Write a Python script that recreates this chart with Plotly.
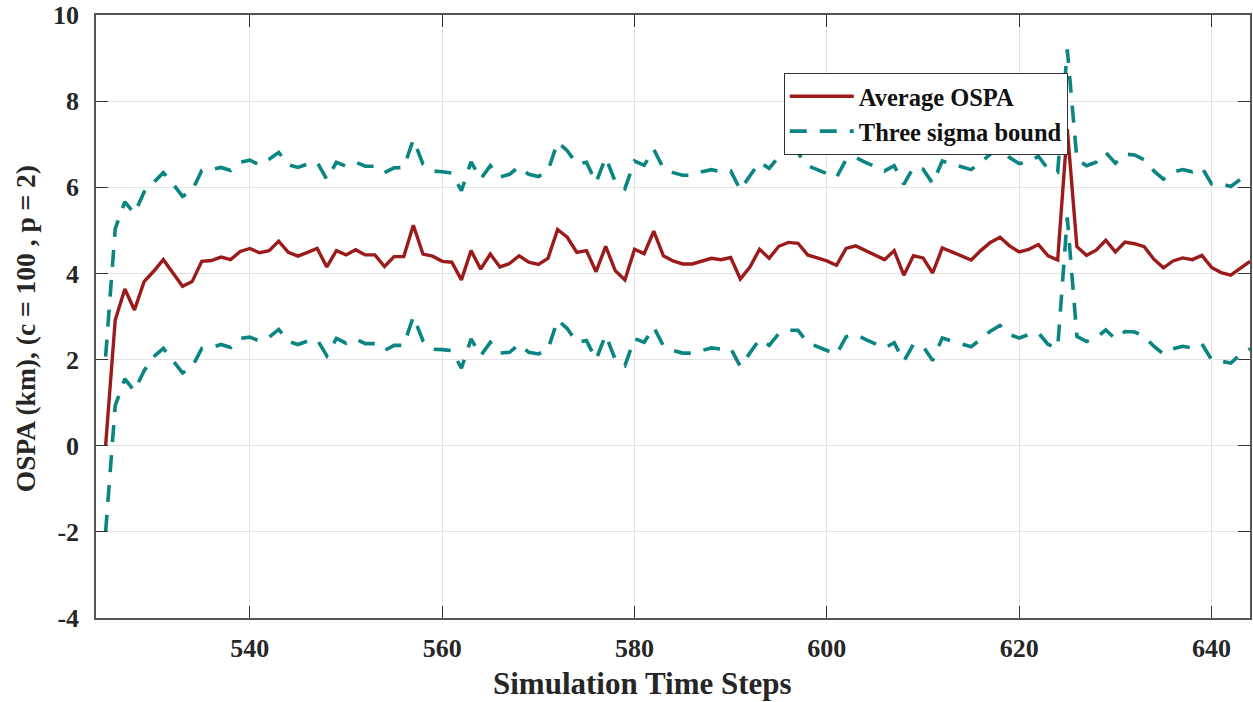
import plotly.graph_objects as go

steps = list(range(525, 645))

avg_ospa = [
    0.00, 2.92, 3.64, 3.15, 3.81, 4.05, 4.32, 4.01, 3.70, 3.81,
    4.28, 4.30, 4.38, 4.32, 4.51, 4.58, 4.48, 4.53, 4.75, 4.49,
    4.40, 4.49, 4.58, 4.15, 4.53, 4.43, 4.55, 4.43, 4.43, 4.16,
    4.39, 4.39, 5.12, 4.45, 4.40, 4.28, 4.26, 3.85, 4.53, 4.10,
    4.45, 4.15, 4.23, 4.41, 4.26, 4.21, 4.35, 5.02, 4.84, 4.49,
    4.53, 4.04, 4.63, 4.06, 3.85, 4.56, 4.46, 4.98, 4.41, 4.29,
    4.22, 4.22, 4.28, 4.35, 4.32, 4.37, 3.87, 4.15, 4.56, 4.35,
    4.63, 4.72, 4.70, 4.43, 4.36, 4.29, 4.19, 4.58, 4.64, 4.53,
    4.43, 4.32, 4.53, 3.96, 4.41, 4.36, 4.01, 4.59, 4.50, 4.41,
    4.31, 4.53, 4.72, 4.84, 4.64, 4.50, 4.56, 4.67, 4.41, 4.31,
    7.35, 4.62, 4.42, 4.54, 4.77, 4.50, 4.73, 4.69, 4.62, 4.33,
    4.13, 4.29, 4.36, 4.32, 4.42, 4.14, 4.02, 3.96, 4.12, 4.28,
]

upper_bound = [
    2.07, 5.04, 5.66, 5.39, 5.89, 6.13, 6.34, 6.08, 5.79, 5.92,
    6.39, 6.41, 6.46, 6.39, 6.58, 6.63, 6.52, 6.65, 6.81, 6.52,
    6.46, 6.54, 6.58, 6.18, 6.58, 6.49, 6.58, 6.49, 6.49, 6.34,
    6.45, 6.46, 7.11, 6.54, 6.38, 6.36, 6.33, 5.92, 6.59, 6.19,
    6.50, 6.24, 6.30, 6.48, 6.30, 6.25, 6.38, 7.05, 6.85, 6.54,
    6.58, 6.11, 6.69, 6.13, 5.97, 6.61, 6.51, 6.88, 6.44, 6.34,
    6.28, 6.28, 6.36, 6.41, 6.36, 6.38, 5.94, 6.27, 6.58, 6.44,
    6.71, 6.80, 6.79, 6.50, 6.41, 6.30, 6.23, 6.64, 6.69, 6.58,
    6.48, 6.38, 6.50, 6.07, 6.46, 6.42, 6.09, 6.61, 6.54, 6.48,
    6.41, 6.58, 6.77, 6.90, 6.69, 6.55, 6.59, 6.72, 6.42, 6.35,
    9.20, 6.65, 6.50, 6.58, 6.81, 6.56, 6.77, 6.75, 6.64, 6.38,
    6.19, 6.35, 6.41, 6.36, 6.46, 6.08, 6.08, 6.02, 6.18, 6.35,
]

lower_bound = [
    -2.00, 0.93, 1.55, 1.27, 1.74, 2.07, 2.26, 1.97, 1.69, 1.83,
    2.26, 2.28, 2.35, 2.28, 2.49, 2.52, 2.43, 2.52, 2.70, 2.42,
    2.35, 2.43, 2.46, 2.09, 2.49, 2.38, 2.48, 2.37, 2.37, 2.21,
    2.33, 2.33, 3.00, 2.44, 2.24, 2.23, 2.21, 1.80, 2.48, 2.09,
    2.40, 2.15, 2.17, 2.36, 2.17, 2.13, 2.24, 2.92, 2.72, 2.40,
    2.44, 2.00, 2.57, 2.00, 1.86, 2.49, 2.40, 2.75, 2.32, 2.21,
    2.15, 2.15, 2.21, 2.27, 2.24, 2.26, 1.84, 2.16, 2.47, 2.33,
    2.60, 2.68, 2.68, 2.39, 2.30, 2.19, 2.12, 2.53, 2.58, 2.47,
    2.37, 2.27, 2.39, 1.96, 2.35, 2.31, 1.98, 2.50, 2.43, 2.37,
    2.30, 2.47, 2.66, 2.79, 2.58, 2.50, 2.58, 2.62, 2.35, 2.27,
    5.30, 2.54, 2.42, 2.50, 2.69, 2.48, 2.65, 2.64, 2.54, 2.31,
    2.13, 2.25, 2.31, 2.27, 2.36, 2.00, 1.96, 1.92, 2.12, 2.25,
]

x_ticks = [540, 560, 580, 600, 620, 640]
y_ticks = [-4, -2, 0, 2, 4, 6, 8, 10]
y_tick_text = ["-4", "-2", "0", "2", "4", "6", "8", "10"]

x_title = "Simulation Time Steps"
y_title = "OSPA (km), (c = 100 , p = 2)"

RED = "#9b1b1b"
TEAL = "#0a8582"
FONT = "Liberation Serif"
DASH = "17px,13px"

fig = go.Figure()
fig.add_trace(go.Scatter(
    x=steps, y=avg_ospa, mode="lines", name="Average OSPA",
    line=dict(color=RED, width=3.4),
))
fig.add_trace(go.Scatter(
    x=steps, y=upper_bound, mode="lines", name="Three sigma bound",
    line=dict(color=TEAL, width=3.6, dash=DASH),
    legendgroup="sigma",
))
fig.add_trace(go.Scatter(
    x=steps, y=lower_bound, mode="lines", name="Three sigma bound",
    line=dict(color=TEAL, width=3.6, dash=DASH),
    legendgroup="sigma", showlegend=False,
))

axis_common = dict(
    showline=True, linecolor="#555555", linewidth=1.5, mirror="ticks",
    showgrid=True, gridcolor="#e3e3e3", gridwidth=1,
    ticks="inside", ticklen=12, tickcolor="#333333", tickwidth=1,
    zeroline=False, ticklabeloverflow="allow", automargin=False,
    tickfont=dict(family=FONT, size=26, color="#262626", weight="bold"),
)

fig.update_layout(
    width=1253, height=702,
    margin=dict(l=96, r=3, t=15, b=84),
    paper_bgcolor="white", plot_bgcolor="white",
    font=dict(family=FONT, color="#262626"),
    xaxis=dict(range=[524, 644], tickvals=x_ticks, ticklabelstandoff=6,
               **axis_common),
    yaxis=dict(range=[-4, 10], tickvals=y_ticks, ticktext=y_tick_text,
               ticklabelstandoff=10, **axis_common),
    legend=dict(
        x=0.596, y=0.904, xanchor="left", yanchor="top",
        bgcolor="white", bordercolor="#333333", borderwidth=1,
        font=dict(family=FONT, size=24.5, color="#111111", weight="bold"),
        tracegroupgap=0, itemwidth=64,
    ),
    showlegend=True,
    annotations=[
        dict(text=x_title, xref="paper", yref="paper", x=0.474, y=-0.109,
             xanchor="center", yanchor="middle", showarrow=False,
             font=dict(family=FONT, size=31, color="#262626", weight="bold")),
        dict(text=y_title, xref="paper", yref="paper", x=-0.0615, y=0.479,
             xanchor="center", yanchor="middle", showarrow=False, textangle=-90,
             font=dict(family=FONT, size=27.5, color="#262626", weight="bold")),
    ],
)

fig.write_html("out.html")
